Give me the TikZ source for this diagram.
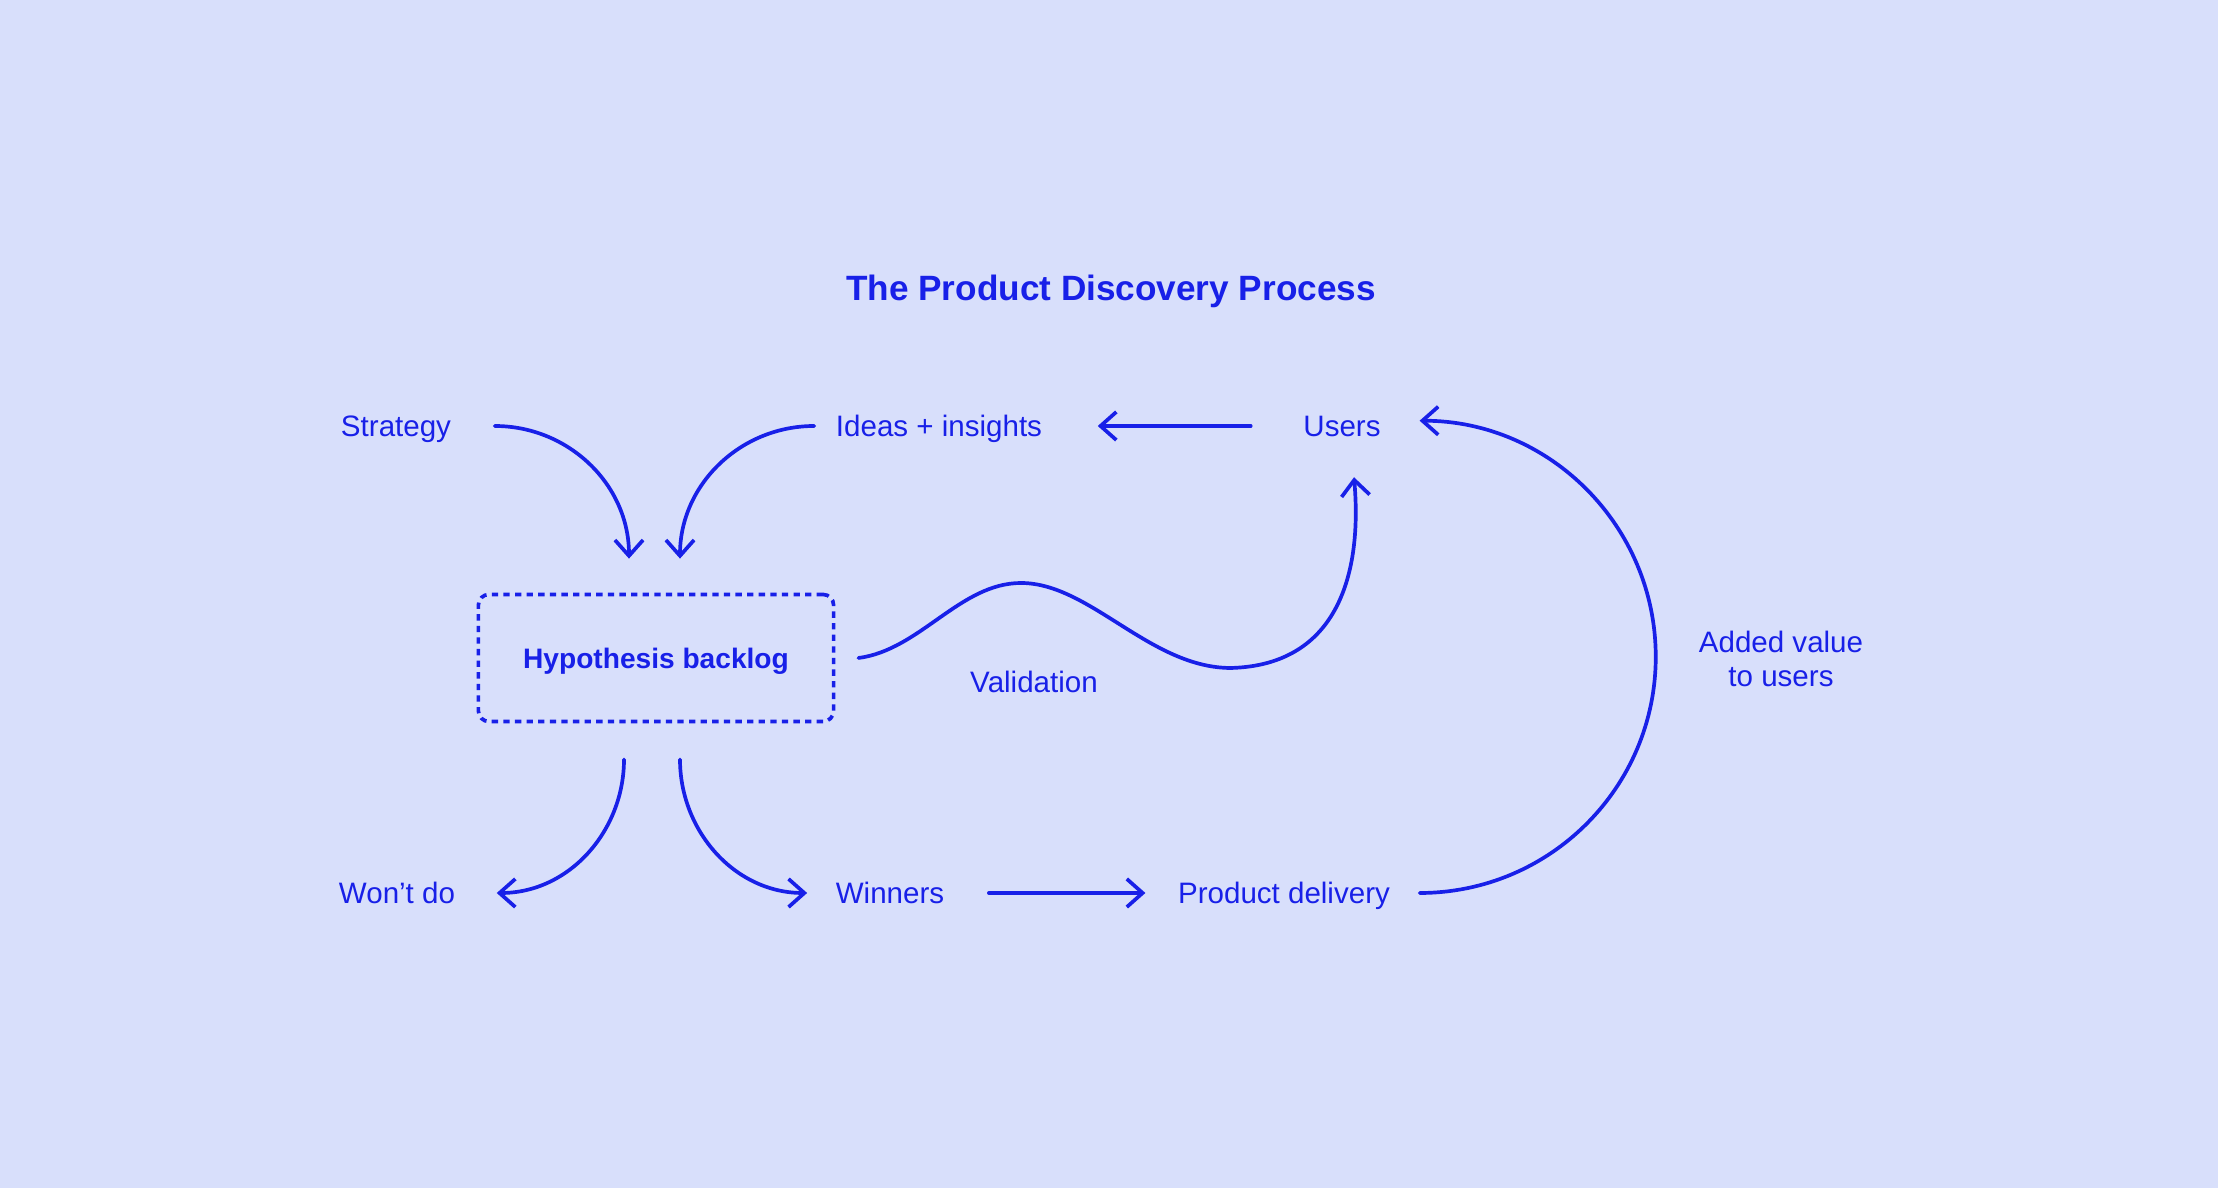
\documentclass[tikz,border=0pt]{standalone}
\usepackage{fontspec}
\setmainfont{Liberation Sans}
\usetikzlibrary{arrows.meta, calc}
\definecolor{bgblue}{HTML}{D8DFFB}
\definecolor{inkblue}{HTML}{1820E8}

\begin{document}
\begin{tikzpicture}[x=0.01cm, y=0.01cm,
        txt/.style={text=inkblue, font=\fontsize{8.4}{9.8}\selectfont, inner sep=0pt},
        oneline/.style={text height=6pt, text depth=0pt},
        flow/.style={draw=inkblue, line width=1.05pt, line cap=round, -{Straight Barb[length=4.5pt, width=8pt, line width=1.05pt]}},
        backlogbox/.style={draw=inkblue, line width=1.05pt, dash pattern=on 1.8pt off 1.5pt, rounded corners=3pt, minimum width=3.55cm, minimum height=1.27cm, font=\bfseries\fontsize{8}{9.6}\selectfont}]

        \fill[bgblue] (0, 0) rectangle (2218, 1188);
        \useasboundingbox (0, 0) rectangle (2218, 1188);

        \node[txt, oneline, font=\bfseries\fontsize{10}{12}\selectfont] (title) at (1111, 898) {The Product Discovery Process};

        \node[txt, oneline] (strategy) at (396, 762) {Strategy};
        \node[txt, oneline] (ideas) at (939, 762) {Ideas + insights};
        \node[txt, oneline] (users) at (1342, 762) {Users};

        \node[txt, oneline, backlogbox] (backlog) at (656, 530) {Hypothesis backlog};
        \node[txt, oneline] (validation) at (1034, 506) {Validation};
        \node[txt, align=center] (added) at (1781, 529) {Added value\\to users};

        \node[txt, oneline] (wontdo) at (397, 295) {Won’t do};
        \node[txt, oneline] (winners) at (890, 295) {Winners};
        \node[txt, oneline] (delivery) at (1284, 295) {Product delivery};

        \draw[flow] ($(strategy.east)+(43, 0)$) to[out=0, in=90] ($(backlog.north)+(-27, 34)$);
        \draw[flow] ($(ideas.west)+(-21, 0)$) to[out=180, in=90] ($(backlog.north)+(24, 34)$);
        \draw[flow] ($(users.west)+(-52, 0)$) -- ($(ideas.east)+(55, 0)$);

        \draw[flow] ($(backlog.south)+(-32, -36)$) to[out=-90, in=0] ($(wontdo.east)+(41, 0)$);
        \draw[flow] ($(backlog.south)+(24, -36)$) to[out=-90, in=180] ($(winners.west)+(-28, 0)$);
        \draw[flow] ($(winners.east)+(44, 0)$) -- ($(delivery.west)+(-32, 0)$);

        \draw[flow] ($(delivery.east)+(29, 0)$) arc[start angle=-90, end angle=90, radius=2.36cm];

        \draw[flow] ($(backlog.east)+(23, 0)$) .. controls (920, 538) and (960, 605) .. (1021, 605)
            .. controls (1090, 605) and (1150, 520) .. (1231, 520)
            .. controls (1340, 523) and (1362, 618) .. ($(users.south)+(12, -40)$);

    \end{tikzpicture}
\end{document}
